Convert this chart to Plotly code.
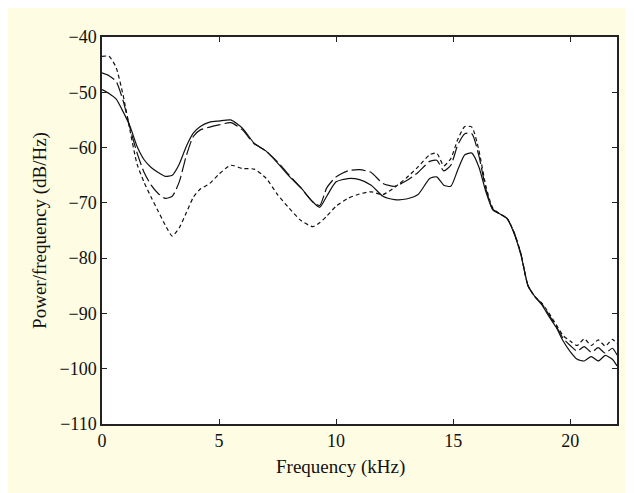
import plotly.graph_objects as go

freq_khz = [0, 0.3, 0.6, 0.9, 1.2, 1.5, 1.8, 2.1, 2.4, 2.7, 3.0, 3.3, 3.6, 3.9, 4.2, 4.6,
            5.0, 5.5, 6.0, 6.5, 7.0, 7.5, 8.0, 8.5, 9.0, 9.3, 9.6, 10.0, 10.5, 11.0, 11.5,
            12.0, 12.5, 13.0, 13.5, 14.0, 14.3, 14.6, 14.9, 15.2, 15.5, 15.8, 16.1, 16.4,
            16.7, 17.0, 17.3, 17.6, 17.9, 18.2, 18.5, 18.8, 19.1, 19.4, 19.7, 20.0, 20.3,
            20.6, 20.9, 21.2, 21.5, 21.8, 22.0]

psd_solid = [-49.5, -50.2, -51.2, -53.5, -56.2, -59.8, -62.2, -63.6, -64.5, -65.2, -65.0,
             -63.0, -59.8, -57.4, -56.2, -55.4, -55.2, -55.0, -56.5, -59.2, -60.6, -62.8,
             -65.2, -67.3, -69.8, -70.8, -68.8, -66.2, -65.6, -65.8, -66.8, -68.8, -69.4,
             -69.3, -68.5, -65.6, -65.3, -66.8, -67.0, -64.0, -61.3, -61.0, -63.5, -68.0,
             -71.3, -72.0, -72.8, -75.5, -79.5, -85.0, -87.0, -88.5, -90.6, -92.5, -95.0,
             -96.9, -98.3, -98.6, -97.8, -98.6, -97.6, -98.3, -99.5]

psd_longdash = [-46.5, -47.0, -48.0, -51.5, -56.5, -61.0, -64.5, -66.8, -68.3, -69.2, -68.8,
                -66.2, -61.5, -58.0, -56.8, -56.3, -55.9, -55.5, -56.8, -59.3, -60.6, -62.6,
                -65.0, -67.3, -69.8, -70.5, -67.3, -65.3, -64.2, -64.0, -64.5, -66.5, -67.0,
                -66.0, -64.5, -62.5, -62.3, -64.2, -63.2, -59.5, -57.5, -57.5, -61.5, -67.5,
                -71.2, -72.0, -72.8, -75.3, -79.3, -85.0, -87.0, -88.3, -90.3, -92.3, -94.5,
                -95.8, -96.8, -96.0, -97.0, -96.2, -97.2, -96.3, -97.5]

psd_shortdash = [-43.5, -43.5, -45.5, -50.5, -57.0, -63.0, -66.3, -69.0, -71.5, -74.0, -76.0,
                 -74.5, -71.8, -69.0, -67.5, -66.5, -64.8, -63.2, -63.8, -63.9, -65.5, -68.5,
                 -71.0, -73.2, -74.3, -73.6, -72.4, -70.6, -69.2, -68.4, -68.0, -68.5, -67.2,
                 -65.5, -63.5, -61.3, -61.0, -63.3, -62.0, -58.5, -56.2, -56.3, -60.5, -67.0,
                 -71.0, -72.0, -72.8, -75.3, -79.3, -85.0, -87.0, -88.2, -90.0, -92.0, -94.0,
                 -95.0, -95.8, -94.6, -95.8, -94.8, -95.9, -94.7, -95.5]

x_ticks = [0, 5, 10, 15, 20]
y_ticks = [-110, -100, -90, -80, -70, -60, -50, -40]
y_tick_text = ["\u2212110", "\u2212100", "\u221290", "\u221280", "\u221270", "\u221260", "\u221250", "\u221240"]

FONT = "Liberation Serif, Times New Roman, serif"

fig = go.Figure()
for vals, dash in [(psd_shortdash, "4px,3px"), (psd_longdash, "14px,4px"), (psd_solid, "solid")]:
    fig.add_trace(go.Scatter(x=freq_khz, y=vals, mode="lines",
                             line=dict(color="#111111", width=1.2, dash=dash, shape="spline", smoothing=0.6),
                             showlegend=False, hoverinfo="skip"))

axis_common = dict(showline=True, linecolor="#222222", linewidth=1.5, mirror="allticks",
                   ticks="inside", ticklen=5, tickcolor="#222222", showgrid=False, zeroline=False,
                   tickfont=dict(family=FONT, size=18, color="#111111"))

fig.update_layout(
    width=626, height=485,
    paper_bgcolor="#fefde4", plot_bgcolor="#ffffff",
    margin=dict(l=94, r=17, t=29, b=69),
    font=dict(family=FONT, color="#111111"),
    xaxis=dict(range=[0, 22], tickvals=x_ticks, **axis_common),
    yaxis=dict(range=[-110, -40], tickvals=y_ticks, ticktext=y_tick_text,
               title=dict(text="Power/frequency (dB/Hz)", font=dict(family=FONT, size=19), standoff=8),
               **axis_common),
    annotations=[dict(text="Frequency (kHz)", xref="paper", yref="paper", x=0.464, y=0,
                      xanchor="center", yanchor="middle", yshift=-43, showarrow=False,
                      font=dict(family=FONT, size=19, color="#111111"))],
)

fig.write_html("out.html")
